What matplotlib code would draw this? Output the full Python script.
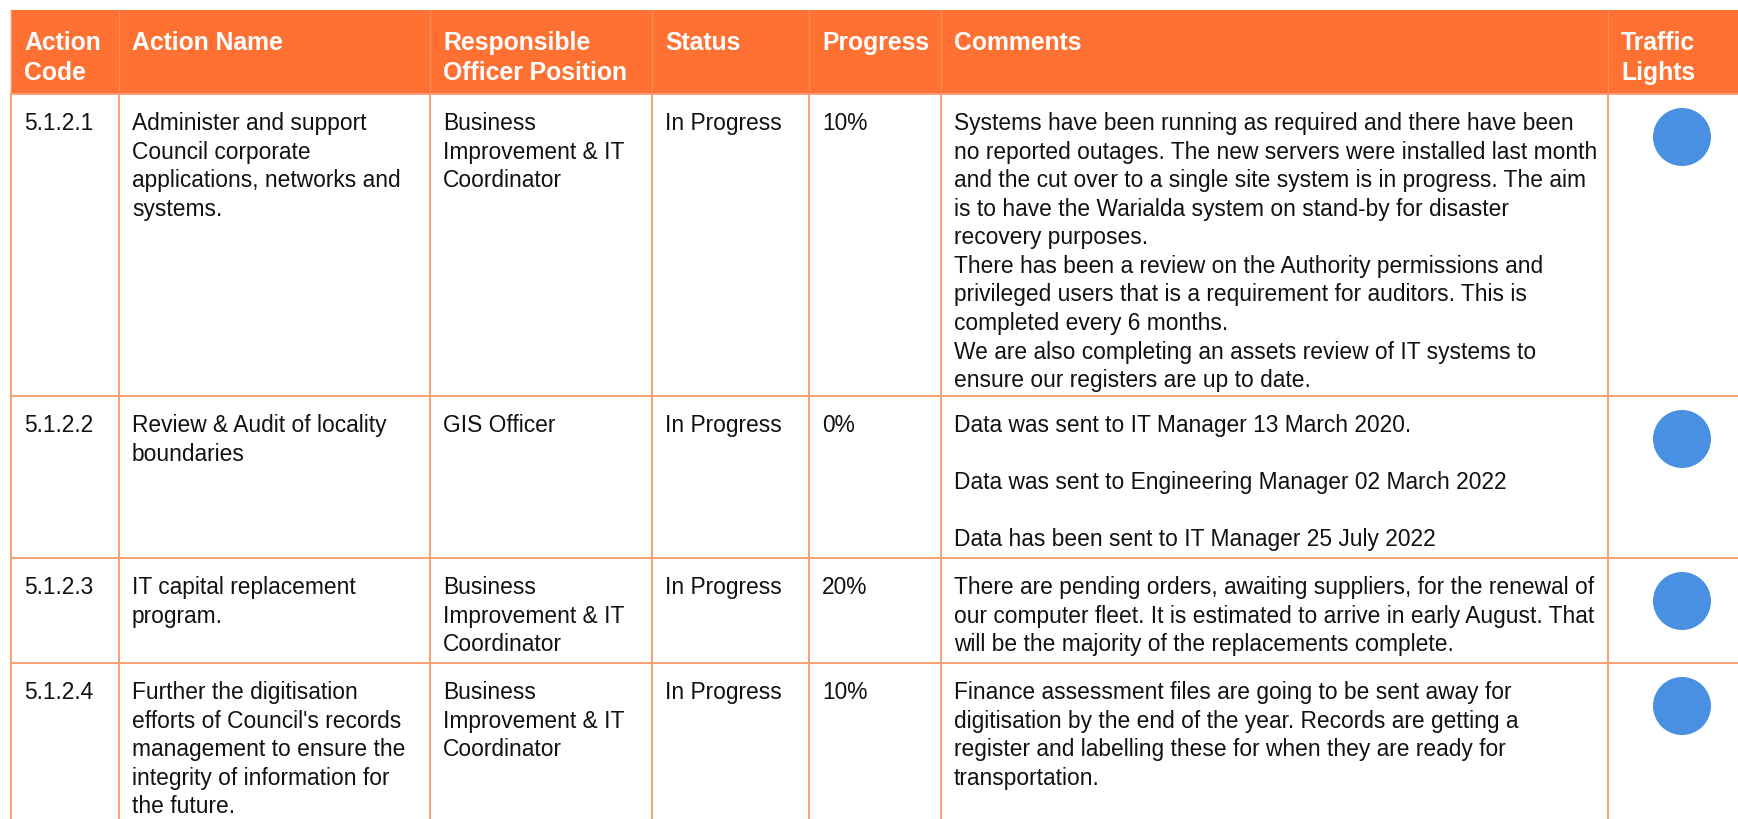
import matplotlib.pyplot as plt
from matplotlib.patches import Rectangle, Circle

plt.rcParams['font.family'] = ['Liberation Sans', 'DejaVu Sans']

### Table contents
headers = ["Action\nCode", "Action Name", "Responsible\nOfficer Position", "Status",
           "Progress", "Comments", "Traffic\nLights"]

codes = ["5.1.2.1", "5.1.2.2", "5.1.2.3", "5.1.2.4"]

names = ["Administer and support\nCouncil corporate\napplications, networks and\nsystems.",
         "Review & Audit of locality\nboundaries",
         "IT capital replacement\nprogram.",
         "Further the digitisation\nefforts of Council's records\nmanagement to ensure the\nintegrity of information for\nthe future."]

officers = ["Business\nImprovement & IT\nCoordinator",
            "GIS Officer",
            "Business\nImprovement & IT\nCoordinator",
            "Business\nImprovement & IT\nCoordinator"]

statuses = ["In Progress", "In Progress", "In Progress", "In Progress"]

progress = ["10%", "0%", "20%", "10%"]

comments = ["Systems have been running as required and there have been\n"
            "no reported outages. The new servers were installed last month\n"
            "and the cut over to a single site system is in progress. The aim\n"
            "is to have the Warialda system on stand-by for disaster\n"
            "recovery purposes.\n"
            "There has been a review on the Authority permissions and\n"
            "privileged users that is a requirement for auditors. This is\n"
            "completed every 6 months.\n"
            "We are also completing an assets review of IT systems to\n"
            "ensure our registers are up to date.",
            "Data was sent to IT Manager 13 March 2020.\n\n"
            "Data was sent to Engineering Manager 02 March 2022\n\n"
            "Data has been sent to IT Manager 25 July 2022",
            "There are pending orders, awaiting suppliers, for the renewal of\n"
            "our computer fleet. It is estimated to arrive in early August. That\n"
            "will be the majority of the replacements complete.",
            "Finance assessment files are going to be sent away for\n"
            "digitisation by the end of the year. Records are getting a\n"
            "register and labelling these for when they are ready for\n"
            "transportation."]

lights = ["#4A90E2", "#4A90E2", "#4A90E2", "#4A90E2"]

### Layout (pixels of the page)
W, H = 1738, 820
col_x = [11, 119, 430, 652, 809, 941, 1608, 1760]   # column borders
head_top, head_bot = 11, 95
row_y = [95, 397, 559, 664, 900]                    # row borders
pad = 13

orange = "#FE7133"
border = "#F9A077"

fig = plt.figure(figsize=(W/100, H/100), dpi=100)
ax = fig.add_axes([0, 0, 1, 1])
ax.set_xlim(0, W)
ax.set_ylim(H, 0)
ax.axis('off')

# Header band
ax.add_patch(Rectangle((col_x[0], head_top), col_x[-1]-col_x[0], head_bot-head_top,
                       facecolor=orange, edgecolor='none'))
for i, h in enumerate(headers):
    ax.text(col_x[i]+pad, head_top+20, h, color='white', fontsize=17.8, fontweight='bold',
            va='top', ha='left', linespacing=1.3)

# Grid lines
for x in col_x:
    ax.plot([x, x], [head_top, head_bot], color="#FB8A57", lw=1)
    ax.plot([x, x], [head_bot, H+20], color=border, lw=1.4)
for y in row_y:
    ax.plot([col_x[0], col_x[-1]], [y, y], color=border, lw=1.4)

# Body rows
body_cols = [codes, names, officers, statuses, progress, comments]
for r in range(len(codes)):
    top = row_y[r]
    for c, col in enumerate(body_cols):
        ax.text(col_x[c]+pad, top+17, col[r], color='#111111', fontsize=16.4,
                va='top', ha='left', linespacing=1.31)
    ax.add_patch(Circle((1682, top+43), 29, facecolor=lights[r], edgecolor='none'))

fig.savefig("out.png", dpi=100)
